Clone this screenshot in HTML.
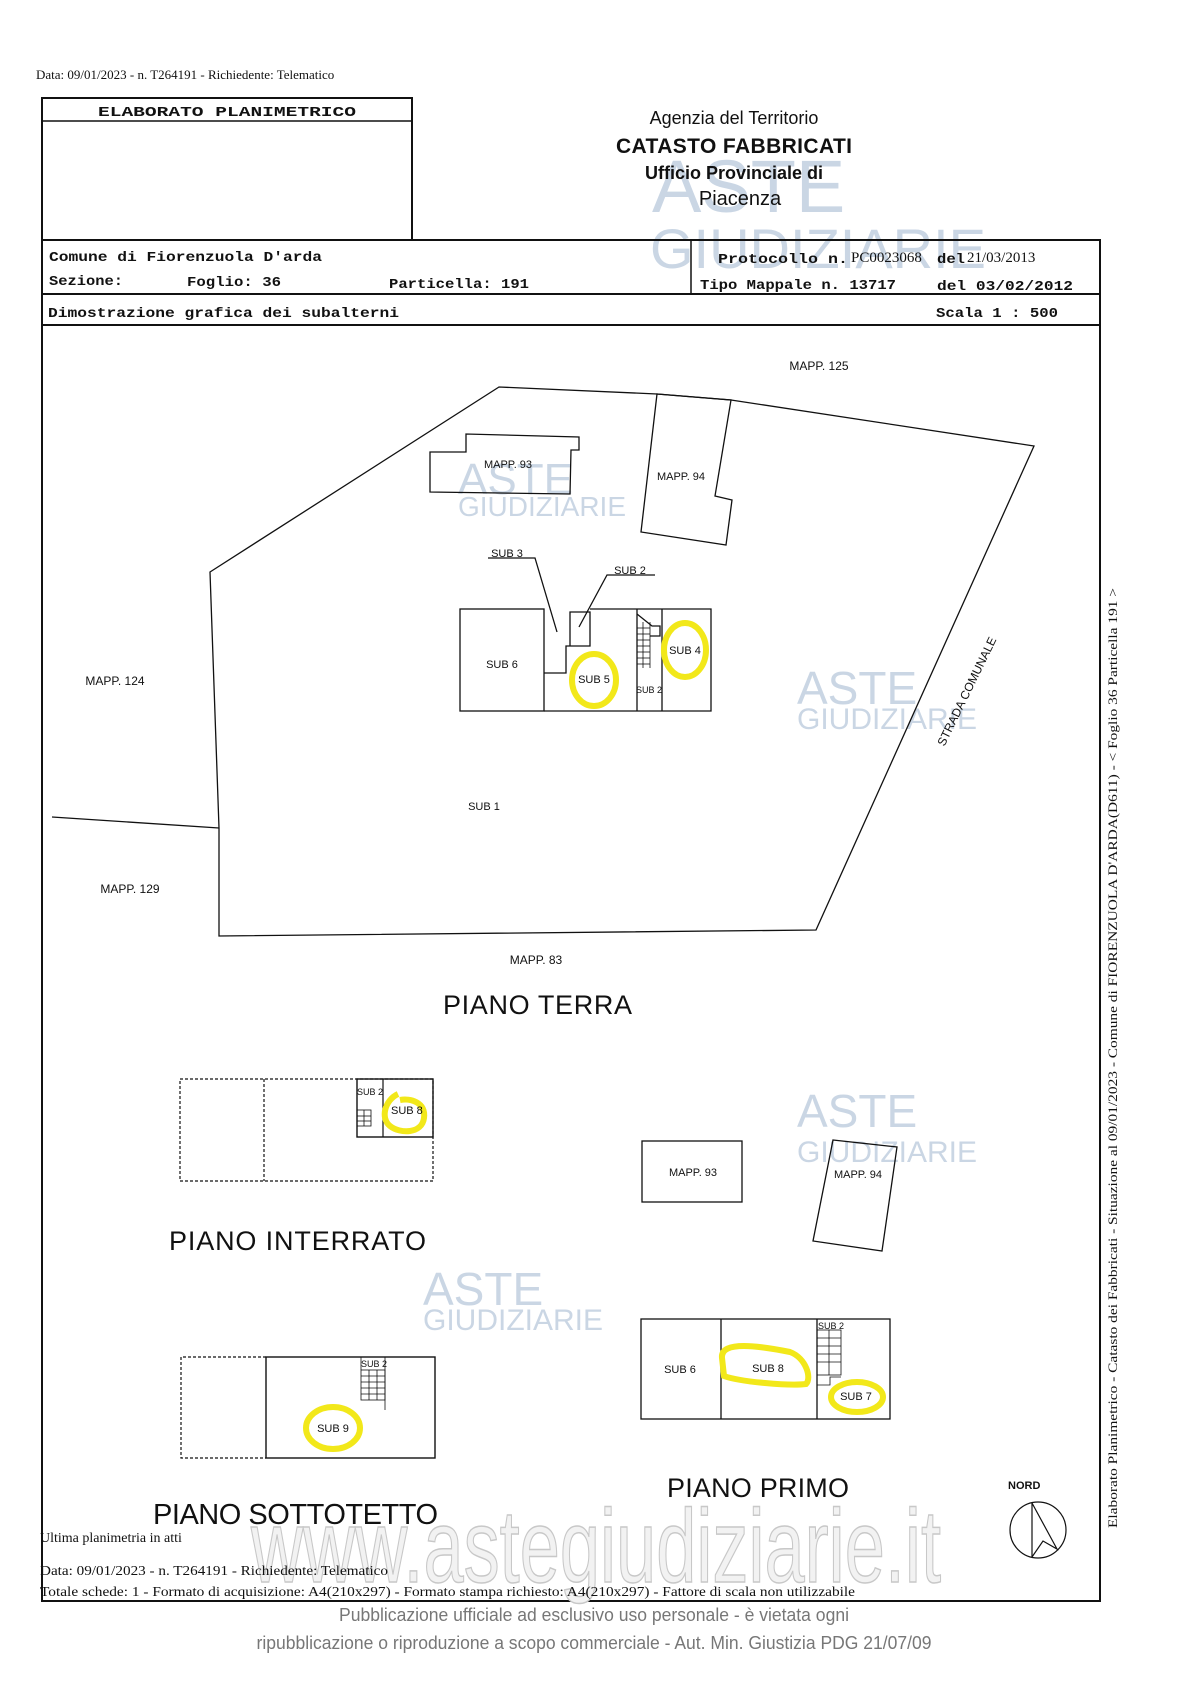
<!DOCTYPE html>
<html><head><meta charset="utf-8"><style>
html,body{margin:0;padding:0;background:#fff;}
svg{display:block}
.m{font-family:"Liberation Mono",monospace;font-size:14px;font-weight:bold;fill:#111}
.s{font-family:"Liberation Sans",sans-serif;fill:#111}
.t{font-family:"Liberation Serif",serif;fill:#111}
</style></head><body>
<svg width="1191" height="1684" viewBox="0 0 1191 1684" xmlns="http://www.w3.org/2000/svg">
<rect width="1191" height="1684" fill="#fff"/>
<g font-family="Liberation Sans,sans-serif" fill="#b9c9dc" opacity="0.75">
<text x="652" y="212" font-size="74">ASTE</text>
<text x="650" y="268" font-size="56">GIUDIZIARIE</text>
<text x="458" y="494" font-size="44">ASTE</text>
<text x="458" y="516" font-size="28">GIUDIZIARIE</text>
<text x="797" y="704" font-size="46">ASTE</text>
<text x="797" y="729" font-size="30">GIUDIZIARIE</text>
<text x="797" y="1127" font-size="46">ASTE</text>
<text x="797" y="1162" font-size="30">GIUDIZIARIE</text>
<text x="423" y="1305" font-size="46">ASTE</text>
<text x="423" y="1330" font-size="30">GIUDIZIARIE</text>
</g>
<text x="36" y="79" class="t" font-size="13">Data: 09/01/2023 - n. T264191 - Richiedente: Telematico</text>
<rect x="42" y="98" width="370" height="142" fill="none" stroke="#111" stroke-width="2"/>
<line x1="42" y1="121" x2="412" y2="121" stroke="#111" stroke-width="1.5"/>
<text x="227" y="116" class="m" text-anchor="middle" textLength="258" lengthAdjust="spacingAndGlyphs" font-size="17">ELABORATO PLANIMETRICO</text>
<g class="s" text-anchor="middle">
<text x="734" y="124" font-size="18">Agenzia del Territorio</text>
<text x="734" y="153" font-size="21" font-weight="bold" textLength="236">CATASTO FABBRICATI</text>
<text x="734" y="179" font-size="18" font-weight="bold">Ufficio Provinciale di</text>
<text x="740" y="205" font-size="20">Piacenza</text>
</g>
<polyline points="42,240 1100,240 1100,1601 47,1601 42,1601 42,240" fill="none" stroke="#111" stroke-width="2"/>
<line x1="42" y1="294" x2="1100" y2="294" stroke="#111" stroke-width="2"/>
<line x1="42" y1="325" x2="1100" y2="325" stroke="#111" stroke-width="2"/>
<line x1="691" y1="240" x2="691" y2="294" stroke="#111" stroke-width="1.5"/>
<g font-size="16">
<text x="49" y="261" class="m" font-size="16" textLength="273" lengthAdjust="spacingAndGlyphs">Comune di Fiorenzuola D'arda</text>
<text x="49" y="285" class="m" font-size="16" textLength="74" lengthAdjust="spacingAndGlyphs">Sezione:</text>
<text x="187" y="286" class="m" font-size="16" textLength="94" lengthAdjust="spacingAndGlyphs">Foglio: 36</text>
<text x="389" y="288" class="m" font-size="16" textLength="140" lengthAdjust="spacingAndGlyphs">Particella: 191</text>
<text x="718" y="263" class="m" font-size="16" textLength="130" lengthAdjust="spacingAndGlyphs">Protocollo n.</text>
<text x="851" y="262" class="t" font-size="15">PC0023068</text>
<text x="937" y="263" class="m" font-size="16" textLength="28" lengthAdjust="spacingAndGlyphs">del</text>
<text x="967" y="262" class="t" font-size="15">21/03/2013</text>
<text x="700" y="289" class="m" font-size="16" textLength="196" lengthAdjust="spacingAndGlyphs">Tipo Mappale n. 13717</text>
<text x="937" y="290" class="m" font-size="16" textLength="136" lengthAdjust="spacingAndGlyphs">del 03/02/2012</text>
<text x="48" y="317" class="m" font-size="16" textLength="351" lengthAdjust="spacingAndGlyphs">Dimostrazione grafica dei subalterni</text>
<text x="936" y="317" class="m" font-size="16" textLength="122" lengthAdjust="spacingAndGlyphs">Scala 1 : 500</text>
</g>
<g fill="none" stroke="#111" stroke-width="1.3">
<polygon points="210,572 499,387 657,394 731,400 1034,446 816,930 219,936 219,828"/>
<line x1="52" y1="817" x2="219" y2="828"/>
<polygon points="430,452 466,452 466,434 579,437 579,450 571,450 570,494 430,492"/>
<polygon points="657,394 731,400 715,496 732,500 726,545 641,532"/>
<rect x="460" y="609" width="84" height="102"/>
<polyline points="544,673 566,673 566,646 570,646 570,612 590,612 590,646 570,646"/>
<polyline points="590,609 711,609 711,711 544,711"/>
<line x1="637" y1="609" x2="637" y2="711"/>
<line x1="662" y1="609" x2="662" y2="711"/>
<polyline points="488,558 535,558 557,632"/>
<polyline points="655,575 607,575 579,627"/>
<polyline points="637,614 652,626 660,626 660,636 650,636"/>
</g>
<g stroke="#111" stroke-width="0.8">
<line x1="637" y1="628" x2="650" y2="628"/><line x1="637" y1="634" x2="650" y2="634"/><line x1="637" y1="640" x2="650" y2="640"/><line x1="637" y1="646" x2="650" y2="646"/><line x1="637" y1="652" x2="650" y2="652"/><line x1="637" y1="658" x2="650" y2="658"/><line x1="637" y1="664" x2="650" y2="664"/><line x1="643" y1="622" x2="643" y2="668"/><line x1="650" y1="622" x2="650" y2="668"/>
</g>
<g fill="none" stroke="#f2e81a" stroke-width="6">
<ellipse cx="594" cy="680" rx="22" ry="26"/>
<ellipse cx="685" cy="650" rx="21" ry="27"/>
</g>
<g class="s" font-size="11" text-anchor="middle">
<text x="819" y="370" font-size="12">MAPP. 125</text>
<text x="508" y="468">MAPP. 93</text>
<text x="681" y="480">MAPP. 94</text>
<text x="507" y="557">SUB 3</text>
<text x="630" y="574">SUB 2</text>
<text x="502" y="668">SUB 6</text>
<text x="594" y="683">SUB 5</text>
<text x="685" y="654">SUB 4</text>
<text x="649" y="693" font-size="9">SUB 2</text>
<text x="115" y="685" font-size="12">MAPP. 124</text>
<text x="484" y="810">SUB 1</text>
<text x="130" y="893" font-size="12">MAPP. 129</text>
<text x="536" y="964" font-size="12">MAPP. 83</text>
<text x="966" y="696" font-size="12" transform="rotate(-64 966 691)">STRADA COMUNALE</text>
</g>
<text x="443" y="1014" class="s" font-size="27" textLength="189">PIANO TERRA</text>
<g fill="none" stroke="#111" stroke-width="1.2">
<rect x="180" y="1079" width="253" height="102" stroke-dasharray="3,2"/>
<line x1="264" y1="1079" x2="264" y2="1181" stroke-dasharray="3,2"/>
<rect x="357" y="1079" width="76" height="58" stroke-width="1.4"/>
<line x1="383" y1="1079" x2="383" y2="1137"/>
<rect x="357" y="1110" width="14" height="16" stroke-width="0.8"/>
<line x1="357" y1="1116" x2="371" y2="1116" stroke-width="0.8"/><line x1="357" y1="1121" x2="371" y2="1121" stroke-width="0.8"/><line x1="364" y1="1110" x2="364" y2="1126" stroke-width="0.8"/>
</g>
<text x="357" y="1095" class="s" font-size="9">SUB 2</text>
<path d="M398,1094 C385,1100 380,1118 390,1126 C400,1134 422,1134 424,1118 C426,1102 410,1098 400,1100" fill="none" stroke="#f2e81a" stroke-width="6"/>
<text x="391" y="1114" class="s" font-size="11">SUB 8</text>
<text x="169" y="1250" class="s" font-size="27" textLength="257">PIANO INTERRATO</text>
<g fill="none" stroke="#111" stroke-width="1.3">
<rect x="642" y="1141" width="100" height="61"/>
<polygon points="833,1140 897,1147 882,1251 813,1241"/>
</g>
<text x="693" y="1176" class="s" font-size="11" text-anchor="middle">MAPP. 93</text>
<text x="858" y="1178" class="s" font-size="11" text-anchor="middle">MAPP. 94</text>
<g fill="none" stroke="#111" stroke-width="1.2">
<polyline points="266,1357 181,1357 181,1458 266,1458" stroke-dasharray="3,2"/>
<rect x="266" y="1357" width="169" height="101" stroke-width="1.4"/>
<rect x="361" y="1370" width="24" height="30" stroke-width="0.8"/>
<line x1="361" y1="1376" x2="385" y2="1376" stroke-width="0.8"/><line x1="361" y1="1382" x2="385" y2="1382" stroke-width="0.8"/><line x1="361" y1="1388" x2="385" y2="1388" stroke-width="0.8"/><line x1="361" y1="1394" x2="385" y2="1394" stroke-width="0.8"/><line x1="369" y1="1370" x2="369" y2="1400" stroke-width="0.8"/><line x1="377" y1="1370" x2="377" y2="1400" stroke-width="0.8"/>
<line x1="361" y1="1357" x2="361" y2="1370" stroke-width="0.8"/><line x1="385" y1="1357" x2="385" y2="1410" stroke-width="0.8"/>
</g>
<text x="361" y="1367" class="s" font-size="9">SUB 2</text>
<ellipse cx="333" cy="1428" rx="27" ry="21" fill="none" stroke="#f2e81a" stroke-width="6"/>
<text x="333" y="1432" class="s" font-size="11" text-anchor="middle">SUB 9</text>
<text x="153" y="1524" class="s" font-size="29" textLength="285">PIANO SOTTOTETTO</text>
<g fill="none" stroke="#111" stroke-width="1.3">
<rect x="641" y="1319" width="249" height="100"/>
<line x1="721" y1="1319" x2="721" y2="1419"/>
<line x1="817" y1="1319" x2="817" y2="1419"/>
<rect x="817" y="1330" width="24" height="45" stroke-width="0.8"/>
<line x1="817" y1="1338" x2="841" y2="1338" stroke-width="0.8"/><line x1="817" y1="1346" x2="841" y2="1346" stroke-width="0.8"/><line x1="817" y1="1354" x2="841" y2="1354" stroke-width="0.8"/><line x1="817" y1="1362" x2="841" y2="1362" stroke-width="0.8"/><line x1="829" y1="1330" x2="829" y2="1375" stroke-width="0.8"/>
<polyline points="817,1385 830,1385 830,1377 841,1377" stroke-width="0.8"/>
</g>
<text x="818" y="1329" class="s" font-size="9">SUB 2</text>
<path d="M722,1358 C720,1340 760,1346 790,1352 C806,1358 812,1378 806,1384 C790,1386 740,1382 724,1376 Z" fill="none" stroke="#f2e81a" stroke-width="6"/>
<ellipse cx="857" cy="1397" rx="26" ry="15" fill="none" stroke="#f2e81a" stroke-width="6"/>
<g class="s" font-size="11" text-anchor="middle">
<text x="680" y="1373">SUB 6</text>
<text x="768" y="1372">SUB 8</text>
<text x="856" y="1400">SUB 7</text>
</g>
<text x="667" y="1497" class="s" font-size="27" textLength="182">PIANO PRIMO</text>
<text x="1008" y="1489" class="s" font-size="11" font-weight="bold">NORD</text>
<circle cx="1038" cy="1530" r="28" fill="none" stroke="#111" stroke-width="1.2"/>
<polyline points="1032,1557 1032,1503 1057,1549 1043,1541 1032,1557" fill="none" stroke="#111" stroke-width="1.2"/>
<text transform="translate(1117,1528) rotate(-90)" class="t" font-size="13" textLength="940" lengthAdjust="spacingAndGlyphs">Elaborato Planimetrico - Catasto dei Fabbricati - Situazione al 09/01/2023 - Comune di FIORENZUOLA D'ARDA(D611) - &lt; Foglio 36 Particella 191 &gt;</text>
<text x="251" y="1582" font-family="Liberation Sans,sans-serif" font-size="104" fill="#f2f2f2" stroke="#c8c8c8" stroke-width="1.5" textLength="690" lengthAdjust="spacingAndGlyphs">www.astegiudiziarie.it</text>
<text x="40" y="1542" class="t" font-size="14">Ultima planimetria in atti</text>
<text x="40" y="1575" class="t" font-size="14" textLength="348" lengthAdjust="spacingAndGlyphs">Data: 09/01/2023 - n. T264191 - Richiedente: Telematico</text>
<text x="40" y="1596" class="t" font-size="14" textLength="815" lengthAdjust="spacingAndGlyphs">Totale schede: 1 - Formato di acquisizione: A4(210x297)  - Formato stampa richiesto: A4(210x297) - Fattore di scala non utilizzabile</text>
<g font-family="Liberation Sans,sans-serif" fill="#777" text-anchor="middle" font-size="18">
<text x="594" y="1621" textLength="510" lengthAdjust="spacingAndGlyphs">Pubblicazione ufficiale ad esclusivo uso personale - è vietata ogni</text>
<text x="594" y="1649" textLength="675" lengthAdjust="spacingAndGlyphs">ripubblicazione o riproduzione a scopo commerciale - Aut. Min. Giustizia PDG 21/07/09</text>
</g>
</svg>
</body></html>
